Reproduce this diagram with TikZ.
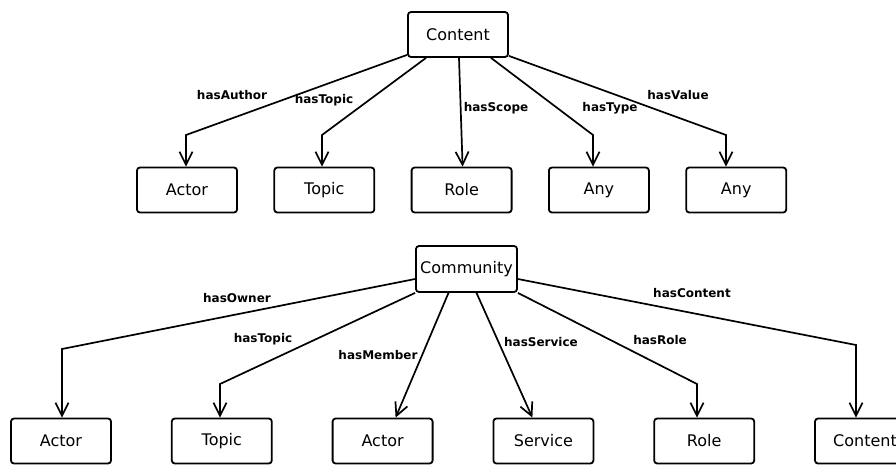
\documentclass[tikz,border=0pt]{standalone}
\usepackage{fontspec}
\setsansfont{DejaVu Sans}
\usetikzlibrary{positioning, arrows.meta}
\tikzset{basic/.style={draw,line width=1.8pt,rounded corners=3pt,minimum width=100pt,minimum height=45pt,inner sep=0pt,font=\sffamily\fontsize{16}{18}\selectfont}}
\tikzset{rel/.style={font=\sffamily\bfseries\fontsize{12}{14}\selectfont,inner sep=0pt}}
\tikzset{link/.style={line width=1.7pt,-{Straight Barb[length=13pt,width=13pt]}}}

\begin{document}
\begin{tikzpicture}[x=1pt,y=-1pt]
\useasboundingbox (0,0) rectangle (896,464);

% Define content and its targets
\node[basic] (content) at (458,34.5) {Content};
\node[basic] (actorA) at (187,190) {Actor};
\node[basic,right=35.5pt of actorA] (topicA) {Topic};
\node[basic,right=35.5pt of topicA] (roleA) {Role};
\node[basic,right=35.5pt of roleA] (anyA) {Any};
\node[basic,right=35.5pt of anyA] (anyB) {Any};

% Bends of content lines
\coordinate (kAuthor) at (186,135);
\coordinate (kTopicA) at (322,135);
\coordinate (kType) at (593,135);
\coordinate (kValue) at (726,135);

% Draw lines from content
\path[draw,link] ([yshift=3pt]content.south west) -- (kAuthor) -- (kAuthor |- actorA.north);
\path[draw,link] ([xshift=-32pt]content.south) -- (kTopicA) -- (kTopicA |- topicA.north);
\path[draw,link] ([xshift=1pt]content.south) -- ([xshift=1pt]roleA.north);
\path[draw,link] ([xshift=33pt]content.south) -- (kType) -- (kType |- anyA.north);
\path[draw,link] ([yshift=2pt]content.south east) -- (kValue) -- (kValue |- anyB.north);

% Labels of content lines
\node[rel] (lAuthor) at (232,95) {hasAuthor};
\node[rel] (lTopicA) at (324,100) {hasTopic};
\node[rel] (lScope) at (496,108) {hasScope};
\node[rel] (lType) at (610,108) {hasType};
\node[rel] (lValue) at (678,95) {hasValue};

% Define community and its targets
\node[basic,minimum width=101pt,minimum height=46pt] (community) at (466.5,269) {Community};
\node[basic] (actorB) at (61,441) {Actor};
\node[basic,right=59pt of actorB] (topicB) {Topic};
\node[basic,right=59pt of topicB] (actorC) {Actor};
\node[basic,right=59pt of actorC] (service) {Service};
\node[basic,right=59pt of service] (roleB) {Role};
\node[basic,right=59pt of roleB] (contentB) {Content};

% Bends of community lines
\coordinate (kOwner) at (62,349);
\coordinate (kTopicB) at (220,384);
\coordinate (kRole) at (697,384);
\coordinate (kContent) at (856,345);

% Draw lines from community
\path[draw,link] ([yshift=-10pt]community.west) -- (kOwner) -- (kOwner |- actorB.north);
\path[draw,link] (community.south west) -- (kTopicB) -- (kTopicB |- topicB.north);
\path[draw,link] ([xshift=-18pt]community.south) -- ([xshift=13pt]actorC.north);
\path[draw,link] ([xshift=10pt]community.south) -- ([xshift=-11pt]service.north);
\path[draw,link] (community.south east) -- (kRole) -- (kRole |- roleB.north);
\path[draw,link] ([yshift=-10pt]community.east) -- (kContent) -- (kContent |- contentB.north);

% Labels of community lines
\node[rel] (lOwner) at (237,298) {hasOwner};
\node[rel] (lTopicB) at (263,339) {hasTopic};
\node[rel] (lMember) at (378,355) {hasMember};
\node[rel] (lService) at (541,342) {hasService};
\node[rel] (lRole) at (660,340) {hasRole};
\node[rel] (lContent) at (692,293) {hasContent};

\end{tikzpicture}
\end{document}
